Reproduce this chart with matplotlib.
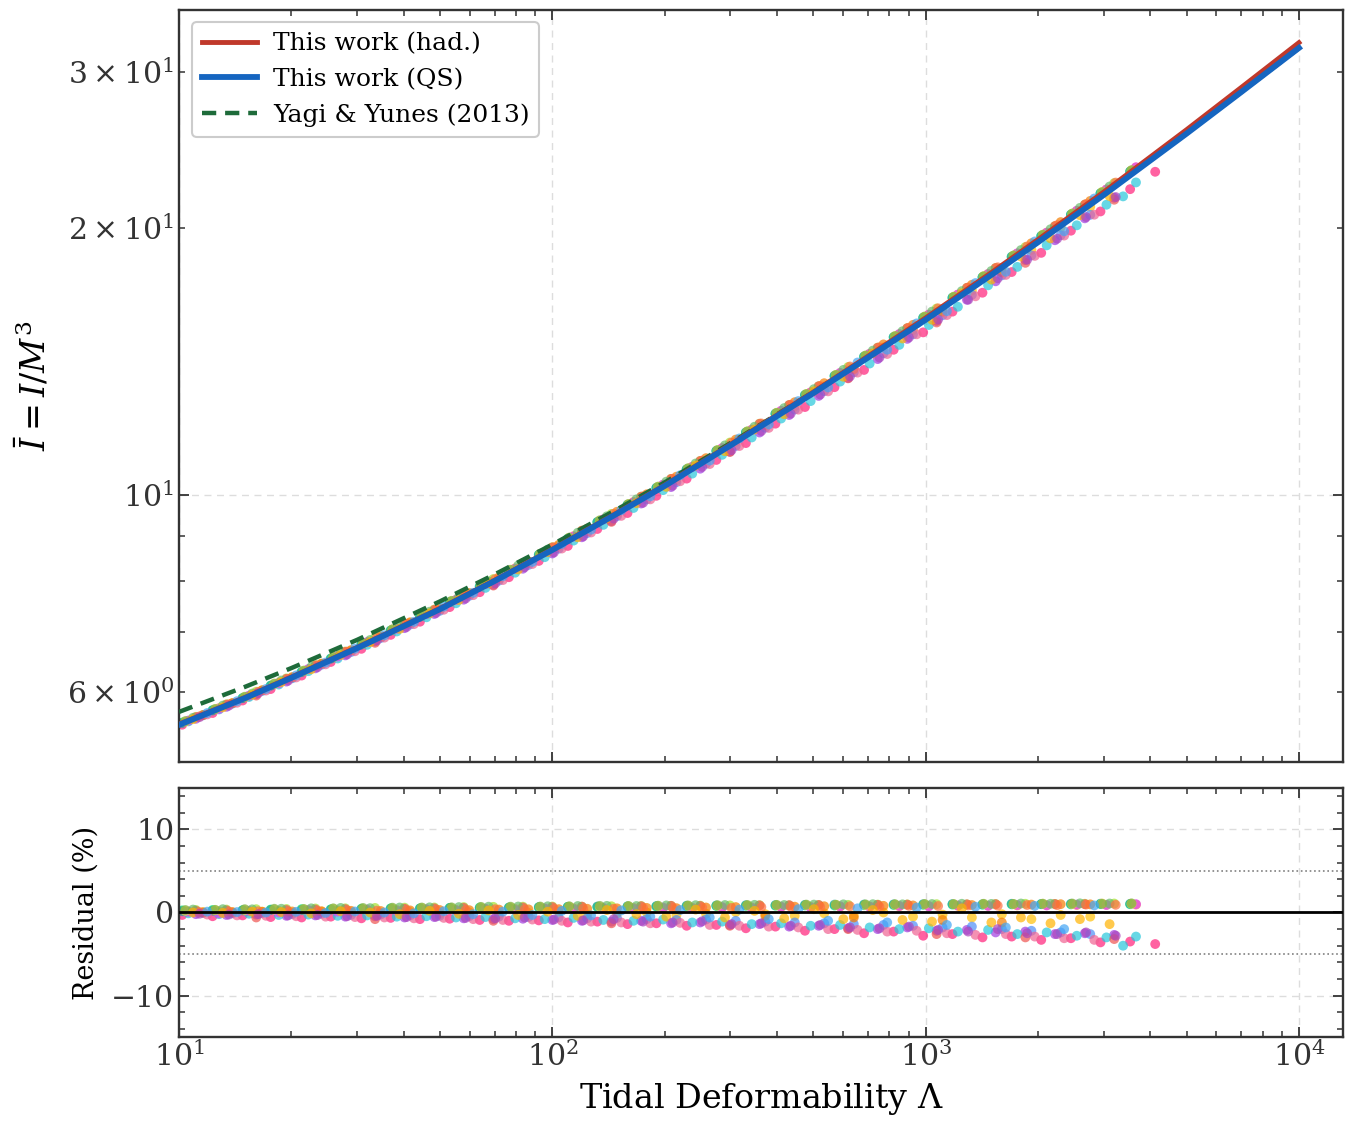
import numpy as np
import matplotlib
matplotlib.use("Agg")
import matplotlib.pyplot as plt
from matplotlib.ticker import MultipleLocator

plt.rcParams['font.family'] = ['DejaVu Serif']
plt.rcParams['mathtext.fontset'] = 'dejavuserif'

# ---------------- fit curves ----------------
lam_fit = [10, 15, 20, 30, 50, 70, 100, 150, 200, 300, 500, 700,
           1000, 1500, 2000, 3000, 5000, 7000, 10000]
I_yy = [5.695, 6.076, 6.381, 6.866, 7.586, 8.135, 8.792, 9.646, 10.330,
        11.440, 13.060, 14.290, 15.770, 17.720, 19.290, 21.80, 25.55, 28.44, 31.88]
I_qs = [5.507, 5.900, 6.221, 6.720, 7.434, 7.997, 8.669, 9.540, 10.237,
        11.371, 13.021, 14.276, 15.753, 17.700, 19.266, 21.78, 25.54, 28.44, 31.90]
I_had = [5.518, 5.912, 6.234, 6.733, 7.449, 8.013, 8.687, 9.560, 10.260,
         11.400, 13.060, 14.330, 15.832, 17.806, 19.401, 21.95, 25.80, 28.78, 32.34]

# ---------------- EOS samples: tidal deformability and residual (%) ----------------
lamA = [10.2, 12.3, 14.8, 17.6, 21.3, 25.5, 30.8, 36.9, 44.2, 53.1, 63.9, 76.5, 92.0,
        110, 132, 159, 190, 229, 275, 330, 396, 475, 570, 684, 821, 985, 1180, 1420,
        1700, 2040, 2450, 2940, 3530]
lamB = [11.1, 13.4, 16.1, 19.4, 23.2, 27.9, 33.5, 40.2, 48.3, 57.9, 69.5, 83.4, 100,
        120, 144, 173, 208, 249, 299, 359, 431, 517, 620, 744, 893, 1070, 1290, 1540,
        1850, 2220, 2670, 3200]
lamC = [10.6, 12.8, 15.4, 18.5, 22.2, 26.6, 31.9, 38.3, 46.0, 55.2, 66.2, 79.5, 95.4,
        114, 137, 165, 198, 237, 285, 342, 410, 492, 590, 708, 850, 1020, 1220, 1470,
        1760, 2110, 2540, 3050, 3660]
lamD = [11.6, 13.9, 16.7, 20.1, 24.1, 28.9, 34.7, 41.6, 49.9, 59.9, 71.9, 86.3, 104,
        124, 149, 179, 215, 258, 310, 372, 446, 535, 642, 771, 925, 1110, 1330, 1600,
        1920, 2300, 2760]
lamE = [10.4, 12.5, 15.0, 18.0, 21.6, 25.9, 31.1, 37.3, 44.7, 53.7, 64.4, 77.3, 92.8,
        111, 134, 160, 192, 231, 277, 333, 399, 479, 575, 690, 828, 994, 1190, 1430,
        1720, 2060, 2470, 2970, 3560]
lamF = [10.9, 13.1, 15.7, 18.8, 22.6, 27.1, 32.5, 39.0, 46.9, 56.2, 67.5, 81.0, 97.2,
        117, 140, 168, 202, 242, 290, 348, 418, 502, 602, 722, 867, 1040, 1250, 1500,
        1800, 2160, 2590, 3110]
lamG = [11.35, 13.6, 16.3, 19.6, 23.5, 28.2, 33.9, 40.7, 48.8, 58.6, 70.3, 84.3, 101,
        121, 146, 175, 210, 252, 302, 363, 435, 522, 627, 752, 902, 1080, 1300, 1560,
        1870, 2250, 2690, 3230]
lamH = [11.9, 14.3, 17.1, 20.6, 24.7, 29.6, 35.5, 42.6, 51.2, 61.4, 73.7, 88.4, 106,
        127, 153, 183, 220, 264, 317, 380, 456, 548, 657, 789, 946, 1140, 1360, 1640,
        1960, 2350, 2830]

eos_colors = ['#00e676', '#a6e22e', '#ff8c42', '#ffc107', '#ff1f7a', '#a03ce0',
              '#26c6da', '#4f8ff7', '#ef5350', '#26a69a', '#f57c00', '#e040fb',
              '#ffd54f', '#66bb6a', '#ff7043', '#f06292', '#7cb342', '#ffb300',
              '#ab47bc', '#42a5f5']
eos_lams = [lamA, lamB, lamC, lamD, lamA + [4120], lamB, lamC + [3380], lamD,
            lamB, lamA, lamD, lamC,
            lamE, lamF, lamG, lamH, lamE, lamF, lamG, lamH]
eos_res = [
    [0.25, 0.30, 0.28, 0.35, 0.40, 0.38, 0.45, 0.50, 0.48, 0.55, 0.60, 0.58, 0.62, 0.68, 0.65,
     0.70, 0.72, 0.75, 0.78, 0.80, 0.82, 0.85, 0.84, 0.88, 0.90, 0.92, 0.95, 0.93, 0.98, 1.00,
     0.98, 1.02, 1.00],
    [0.30, 0.35, 0.40, 0.42, 0.48, 0.50, 0.55, 0.58, 0.60, 0.65, 0.68, 0.70, 0.72, 0.70, 0.75,
     0.78, 0.80, 0.82, 0.85, 0.88, 0.86, 0.90, 0.92, 0.95, 0.97, 1.00, 0.98, 1.02, 1.05, 1.03,
     1.05, 1.08],
    [0.10, 0.15, 0.12, 0.20, 0.22, 0.25, 0.28, 0.30, 0.35, 0.32, 0.40, 0.42, 0.45, 0.50, 0.48,
     0.55, 0.52, 0.58, 0.60, 0.62, 0.65, 0.68, 0.70, 0.72, 0.75, 0.78, 0.80, 0.82, 0.85, 0.88,
     0.90, 0.92, 0.95],
    [0.05, 0.00, 0.08, -0.05, 0.10, 0.02, -0.10, 0.05, -0.15, 0.00, -0.20, -0.05, 0.10, -0.25,
     -0.10, 0.00, -0.30, -0.15, 0.05, -0.20, -0.40, -0.10, -0.35, 0.00, -0.50, -0.25, -0.60,
     -0.20, -0.80, -0.30, -0.50],
    [-0.30, -0.45, -0.35, -0.55, -0.60, -0.50, -0.70, -0.65, -0.80, -0.75, -0.90, -1.00, -0.95,
     -1.20, -1.10, -1.40, -1.30, -1.60, -1.50, -1.90, -1.70, -2.20, -2.00, -2.50, -2.30, -2.80,
     -2.60, -3.00, -2.90, -3.30, -3.10, -3.60, -3.50, -3.80],
    [-0.20, -0.30, -0.25, -0.40, -0.35, -0.50, -0.45, -0.60, -0.55, -0.70, -0.80, -0.75, -0.90,
     -1.00, -1.10, -1.00, -1.30, -1.20, -1.50, -1.40, -1.70, -1.60, -1.90, -2.00, -1.80, -2.20,
     -2.10, -2.40, -2.30, -2.60, -2.50, -2.70],
    [-0.10, -0.20, -0.15, -0.30, -0.25, -0.40, -0.35, -0.50, -0.45, -0.60, -0.55, -0.70, -0.80,
     -0.65, -0.90, -1.00, -0.85, -1.20, -1.10, -1.40, -1.30, -1.60, -1.50, -1.80, -2.00, -1.90,
     -2.30, -2.10, -2.60, -2.40, -2.80, -3.00, -2.90, -4.00],
    [-0.05, -0.10, -0.08, -0.20, -0.15, -0.30, -0.25, -0.35, -0.40, -0.45, -0.50, -0.55, -0.60,
     -0.70, -0.65, -0.80, -0.90, -0.85, -1.00, -1.10, -1.20, -1.30, -1.40, -1.50, -1.60, -1.80,
     -1.70, -2.00, -2.20, -2.40, -2.60],
    [0.20, 0.25, -0.60, 0.30, 0.35, 0.40, -0.80, 0.45, 0.50, 0.55, -1.00, 0.60, 0.65, 0.70,
     -1.30, 0.75, 0.80, 0.78, -1.60, 0.85, 0.88, 0.90, -2.00, 0.92, 0.95, -2.60, 0.98, 1.00,
     -3.00, 1.02, 1.00, -3.20],
    [0.15, 0.20, 0.25, 0.30, 0.28, 0.35, 0.40, 0.45, 0.50, 0.55, 0.52, 0.60, 0.65, 0.68, 0.72,
     0.75, 0.78, 0.82, 0.85, 0.88, 0.90, 0.92, 0.95, 0.96, 0.98, 1.00, 1.02, 1.00, 1.05, 1.03,
     1.05, 1.06, 1.04],
    [0.00, 0.05, 0.10, 0.12, 0.15, 0.20, 0.18, 0.25, 0.30, 0.28, 0.35, 0.38, 0.40, 0.45, 0.50,
     0.55, 0.52, 0.60, 0.65, -0.40, 0.70, 0.75, -0.60, 0.80, 0.85, -0.90, 0.90, -1.20, 0.95,
     1.00, 0.98],
    [0.10, -0.10, 0.20, 0.00, 0.30, 0.10, 0.35, 0.20, 0.40, 0.25, 0.45, 0.30, 0.50, 0.40, 0.55,
     0.45, 0.60, 0.50, 0.65, 0.55, 0.70, 0.60, 0.75, 0.70, 0.80, 0.75, 0.85, 0.80, 0.90, 0.85,
     0.95, 0.90, 1.00],
    [0.20, 0.28, 0.30, 0.35, 0.38, 0.45, 0.42, 0.50, 0.55, 0.52, 0.60, 0.62, 0.65, 0.70, 0.68,
     0.75, 0.78, 0.80, 0.82, 0.85, 0.88, 0.90, 0.92, 0.90, 0.95, 0.98, 1.00, 1.02, 1.00, 1.05,
     1.02, 1.08, 1.05],
    [0.35, 0.40, 0.38, 0.45, 0.50, 0.55, 0.52, 0.60, 0.62, 0.65, 0.70, 0.72, 0.75, 0.78, 0.80,
     0.78, 0.85, 0.88, 0.90, 0.92, 0.90, 0.95, 0.98, 1.00, 0.98, 1.02, 1.05, 1.03, 1.08, 1.05,
     1.10, 1.08],
    [0.05, 0.10, 0.15, 0.10, 0.20, 0.25, 0.22, 0.30, 0.35, 0.30, 0.40, 0.38, 0.45, 0.50, 0.45,
     0.55, 0.58, 0.60, 0.55, 0.65, 0.70, 0.68, 0.75, 0.72, 0.80, 0.78, 0.85, 0.82, 0.90, 0.88,
     0.95, 0.92],
    [-0.25, -0.35, -0.40, -0.45, -0.50, -0.55, -0.60, -0.70, -0.65, -0.80, -0.90, -0.85, -1.00,
     -1.10, -1.20, -1.30, -1.25, -1.50, -1.60, -1.70, -1.80, -2.00, -2.10, -2.30, -2.20, -2.50,
     -2.70, -2.60, -2.90, -3.10, -3.30],
    [0.30, 0.32, 0.40, 0.45, 0.42, 0.50, 0.55, 0.58, 0.60, 0.62, 0.68, 0.70, 0.72, 0.75, 0.80,
     0.78, 0.82, 0.85, 0.88, 0.90, 0.92, 0.95, 0.93, 0.98, 1.00, 1.02, 1.00, 1.05, 1.03, 1.06,
     1.08, 1.05, 1.10],
    [0.00, -0.05, 0.10, 0.05, -0.10, 0.15, 0.00, -0.20, 0.20, -0.15, 0.25, -0.30, 0.10, -0.40,
     0.30, -0.20, -0.50, 0.35, -0.60, 0.20, -0.70, 0.40, -0.80, 0.30, -0.90, -1.10, 0.50, -1.20,
     -0.60, -1.30, -0.80, -1.40],
    [-0.15, -0.25, -0.20, -0.35, -0.30, -0.45, -0.40, -0.55, -0.50, -0.65, -0.70, -0.60, -0.85,
     -0.95, -0.80, -1.10, -1.20, -1.05, -1.40, -1.30, -1.60, -1.50, -1.80, -1.90, -1.70, -2.10,
     -2.30, -2.00, -2.50, -2.60, -2.40, -2.80],
    [0.10, 0.05, 0.00, 0.08, -0.05, 0.12, 0.00, -0.10, 0.15, -0.20, 0.10, -0.30, 0.20, -0.35,
     0.25, -0.50, 0.30, -0.60, 0.35, -0.80, 0.40, -1.00, 0.50, -1.20, 0.60, -1.50, 0.70, -1.80,
     0.80, -2.00, 0.85],
]

# ---------------- figure ----------------
fig = plt.figure(figsize=(13.45, 11.21), dpi=100)
ax1 = fig.add_axes([0.1331, 0.3202, 0.8654, 0.6709])
ax2 = fig.add_axes([0.1331, 0.0749, 0.8654, 0.2222])

spine_c = '#333333'
log_lf = np.log10(lam_fit)
log_qs = np.log10(I_qs)
for c, lams, res in zip(eos_colors, eos_lams, eos_res):
    lams = np.array(lams, dtype=float)
    res = np.array(res, dtype=float)
    base = 10 ** np.interp(np.log10(lams), log_lf, log_qs)
    ax1.scatter(lams, base * (1 + res / 100.0), s=50, color=c, alpha=0.7,
                edgecolors='none', zorder=2)
    ax2.scatter(lams, res, s=50, color=c, alpha=0.7, edgecolors='none', zorder=2)

ax1.plot(lam_fit, I_had, color='#c0392b', lw=3.5, zorder=4, label='This work (had.)')
ax1.plot(lam_fit, I_qs, color='#1565c0', lw=4.2, zorder=5, label='This work (QS)')
ax1.plot(lam_fit, I_yy, color='#1e6b3a', lw=3.2, ls=(0, (3.2, 2.0)), zorder=3,
         label='Yagi & Yunes (2013)')

for ax in (ax1, ax2):
    ax.set_xscale('log')
    ax.set_xlim(10, 13120)
    ax.grid(True, which='major', ls=(0, (5, 4)), color='#dddddd', lw=1.0, zorder=0)
    ax.tick_params(which='both', direction='in', top=True, right=True,
                   colors=spine_c, labelcolor='#333333', labelsize=21.5)
    ax.tick_params(which='major', length=7, width=1.3)
    ax.tick_params(which='minor', length=4, width=1.1)
    for s in ax.spines.values():
        s.set_color(spine_c)
        s.set_linewidth(1.7)
    ax.set_axisbelow(True)

ax1.set_yscale('log')
ax1.set_ylim(5.0, 35.2)
ax1.tick_params(axis='x', labelbottom=False)
ax1.set_ylabel(r'$\bar{I} = I/M^3$', fontsize=24, labelpad=10)

leg = ax1.legend(loc='upper left', fontsize=18, handlelength=2.2, framealpha=1,
                 edgecolor='#cccccc', fancybox=True, borderpad=0.4,
                 handletextpad=0.65)
leg.get_frame().set_linewidth(1.5)

ax2.set_ylim(-15, 15)
ax2.yaxis.set_major_locator(MultipleLocator(10))
ax2.yaxis.set_minor_locator(MultipleLocator(2))
ax2.axhline(0, color='black', lw=2, zorder=4)
ax2.axhline(5, color='gray', lw=1.2, ls=':', zorder=1)
ax2.axhline(-5, color='gray', lw=1.2, ls=':', zorder=1)
ax2.set_ylabel('Residual (%)', fontsize=19.5, labelpad=8)
ax2.set_xlabel(r'Tidal Deformability $\Lambda$', fontsize=24, labelpad=6)

fig.savefig('out.png', dpi=100)
